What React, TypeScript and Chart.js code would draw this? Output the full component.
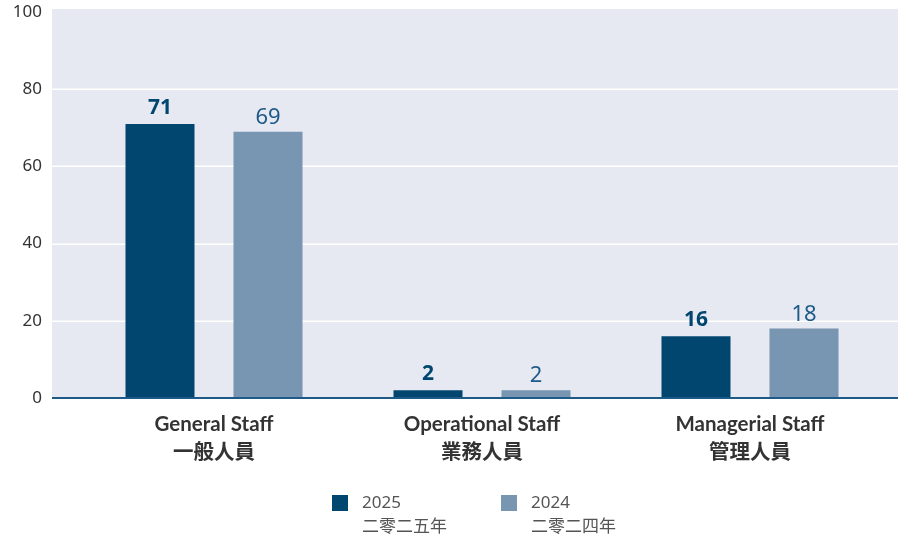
import React, { useEffect, useRef } from "react";
import { Chart, registerables } from "chart.js";

Chart.register(...registerables);

const categories: string[][] = [
  ["General Staff", "一般人員"],
  ["Operational Staff", "業務人員"],
  ["Managerial Staff", "管理人員"],
];
const values2025: number[] = [71, 2, 16];
const values2024: number[] = [69, 2, 18];
const seriesLabels: string[][] = [
  ["2025", "二零二五年"],
  ["2024", "二零二四年"],
];
const yTicks: number[] = [0, 20, 40, 60, 80, 100];

const DARK = "#00466f";
const LIGHT = "#7895b2";
const BG = "#e6e9f1";
const AXIS = "#1d5a87";
const FONT = "'Noto Sans', 'Noto Sans CJK TC', sans-serif";
const XFONT = "Lato, 'Noto Sans CJK TC', sans-serif";

const bgPlugin = {
  id: "bgPlugin",
  beforeDraw(chart: any) {
    const { ctx, chartArea, scales, width } = chart;
    const y = scales.y;
    const x0 = 52;
    ctx.save();
    ctx.fillStyle = BG;
    const top = chartArea.top - 3;
    ctx.fillRect(x0, top, width - x0, y.getPixelForValue(0) - top);
    ctx.strokeStyle = "#ffffff";
    ctx.lineWidth = 1.5;
    yTicks.forEach((v) => {
      if (v === 0 || v === 100) return;
      const py = Math.round(y.getPixelForValue(v)) + 0.25;
      ctx.beginPath();
      ctx.moveTo(x0, py);
      ctx.lineTo(width, py);
      ctx.stroke();
    });
    ctx.restore();
  },
  afterDatasetsDraw(chart: any) {
    const { ctx, scales, width } = chart;
    const y = scales.y;
    const x0 = 52;
    ctx.save();
    ctx.strokeStyle = AXIS;
    ctx.lineWidth = 2.2;
    const py = y.getPixelForValue(0);
    ctx.beginPath();
    ctx.moveTo(x0, py);
    ctx.lineTo(width, py);
    ctx.stroke();
    chart.data.datasets.forEach((ds: any, di: number) => {
      const meta = chart.getDatasetMeta(di);
      meta.data.forEach((bar: any, i: number) => {
        const val = ds.data[i];
        ctx.textAlign = "center";
        ctx.textBaseline = "alphabetic";
        if (di === 0) {
          ctx.font = `700 21px ${FONT}`;
          ctx.fillStyle = DARK;
          ctx.fillText(String(val), bar.x, bar.y - 10);
        } else {
          ctx.font = `400 22px ${FONT}`;
          ctx.fillStyle = AXIS;
          ctx.fillText(String(val), bar.x, bar.y - 8);
        }
      });
    });
    ctx.restore();
  },
  afterDraw(chart: any) {
    const { ctx } = chart;
    const items = [
      { x: 332, color: DARK, text: seriesLabels[0] },
      { x: 501, color: LIGHT, text: seriesLabels[1] },
    ];
    ctx.save();
    items.forEach((it) => {
      ctx.fillStyle = it.color;
      ctx.fillRect(it.x, 495, 16, 16);
      ctx.fillStyle = "#555555";
      ctx.font = `400 17px ${FONT}`;
      ctx.textAlign = "left";
      ctx.textBaseline = "middle";
      ctx.fillText(it.text[0], it.x + 30, 503);
      ctx.fillText(it.text[1], it.x + 30, 527);
    });
    ctx.restore();
  },
};

export default function App() {
  const ref = useRef<HTMLCanvasElement | null>(null);
  useEffect(() => {
    if (!ref.current) return;
    const chart = new Chart(ref.current, {
      type: "bar",
      data: {
        labels: categories,
        datasets: [
          {
            label: seriesLabels[0].join(" "),
            data: values2025,
            backgroundColor: DARK,
            categoryPercentage: 0.806,
            barPercentage: 0.639,
          },
          {
            label: seriesLabels[1].join(" "),
            data: values2024,
            backgroundColor: LIGHT,
            categoryPercentage: 0.806,
            barPercentage: 0.639,
          },
        ],
      },
      options: {
        responsive: false,
        animation: false,
        layout: { padding: { top: 12, right: 14, left: 0, bottom: 0 } },
        plugins: {
          legend: { display: false },
          tooltip: { enabled: false },
        },
        scales: {
          x: {
            grid: { display: false, drawTicks: false },
            border: { display: false },
            ticks: {
              color: "#333333",
              font: { family: XFONT, size: 20.5, weight: "700", lineHeight: 1.33 },
              padding: 13,
              maxRotation: 0,
            },
            afterFit: (s: any) => {
              s.height = 140;
              s.paddingLeft = 0;
              s.paddingRight = 0;
            },
          },
          y: {
            min: 0,
            max: 100,
            grid: { display: false, drawTicks: false },
            border: { display: false },
            ticks: {
              stepSize: 20,
              color: "#333333",
              font: { family: FONT, size: 17, weight: "400" },
              padding: 38,
            },
            afterFit: (s: any) => {
              s.width = 80;
              s.paddingTop = 0;
              s.paddingBottom = 0;
            },
          },
        },
      },
      plugins: [bgPlugin],
    });
    return () => chart.destroy();
  }, []);
  return (
    <div style={{ position: "absolute", left: 0, top: 0, width: 898, height: 538 }}>
      <canvas ref={ref} width={898} height={538} />
    </div>
  );
}
